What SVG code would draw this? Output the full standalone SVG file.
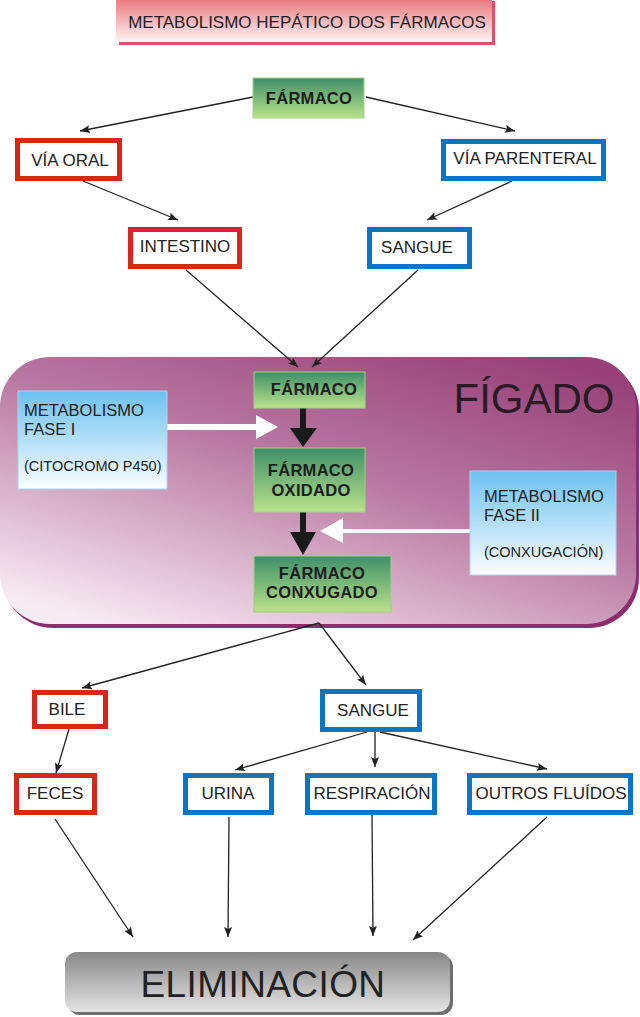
<svg xmlns="http://www.w3.org/2000/svg" width="640" height="1017" viewBox="0 0 640 1017">
<style>
.t{font-family:"Liberation Sans",Arial,sans-serif;font-size:17px;fill:#222;text-anchor:middle}
.b{font-family:"Liberation Sans",Arial,sans-serif;font-size:16.5px;font-weight:bold;fill:#1e1e1e;text-anchor:middle;letter-spacing:0.3px}
.m{font-family:"Liberation Sans",Arial,sans-serif;font-size:16.5px;fill:#222}
.s{font-family:"Liberation Sans",Arial,sans-serif;font-size:14.5px;fill:#222}
.red{fill:#fff;stroke:#d9261c;stroke-width:5}
.blue{fill:#fff;stroke:#0a75c2;stroke-width:5}
.green{fill:url(#gg);stroke:#9fd184;stroke-width:1}
.lb{fill:url(#gb);stroke:#a8d6f2;stroke-width:1}
.c{stroke:#222;stroke-width:1.3;fill:none;marker-end:url(#ah)}
</style>
<defs>
<linearGradient id="gg" x1="0" y1="0" x2="0" y2="1"><stop offset="0" stop-color="#3f8f68"/><stop offset="1" stop-color="#b9e28a"/></linearGradient>
<linearGradient id="gb" x1="0" y1="0" x2="0" y2="1"><stop offset="0" stop-color="#6cc1ef"/><stop offset="1" stop-color="#fbfdff"/></linearGradient>
<linearGradient id="gt" x1="0" y1="0" x2="0" y2="1"><stop offset="0" stop-color="#e8757c"/><stop offset="1" stop-color="#fff4f4"/></linearGradient>
<linearGradient id="gl" x1="0.85" y1="0" x2="0.15" y2="1"><stop offset="0" stop-color="#974178"/><stop offset="0.45" stop-color="#b97aa2"/><stop offset="1" stop-color="#f8ecf3"/></linearGradient>
<linearGradient id="ge" x1="0" y1="0" x2="0" y2="1"><stop offset="0" stop-color="#878787"/><stop offset="1" stop-color="#e4e4e4"/></linearGradient>
<marker id="ah" viewBox="0 0 10 8" refX="10" refY="4" markerWidth="10" markerHeight="8" markerUnits="userSpaceOnUse" orient="auto"><path d="M0,0 L10,4 L0,8 L2,4 Z" fill="#222"/></marker>
</defs>

<g id="title">
<rect x="119" y="1" width="376" height="44" fill="#e0506e"/>
<rect x="116" y="-2" width="376" height="44" fill="url(#gt)"/>
<text x="307" y="28" class="t">METABOLISMO HEPÁTICO DOS FÁRMACOS</text>
</g>

<g id="liver">
<rect x="3" y="361" width="636" height="267" rx="50" fill="#8c2e6e"/>
<rect x="0" y="357" width="636" height="267" rx="50" fill="url(#gl)"/>
<text x="534" y="413" font-family="'Liberation Sans',Arial,sans-serif" font-size="42" fill="#2a1a25" text-anchor="middle">FÍGADO</text>
</g>

<g id="connectors">
<line x1="253" y1="97" x2="80" y2="131" class="c"/>
<line x1="366" y1="97" x2="515" y2="131" class="c"/>
<line x1="83" y1="181" x2="178" y2="220" class="c"/>
<line x1="512" y1="181" x2="427" y2="220" class="c"/>
<line x1="186" y1="270" x2="298" y2="367" class="c"/>
<line x1="418" y1="270" x2="312" y2="367" class="c"/>
<line x1="319" y1="623" x2="82" y2="688" class="c"/>
<line x1="319" y1="623" x2="366" y2="685" class="c"/>
<line x1="69" y1="729" x2="56" y2="773" class="c"/>
<line x1="367" y1="732" x2="235" y2="770" class="c"/>
<line x1="375" y1="732" x2="375" y2="767" class="c"/>
<line x1="380" y1="732" x2="547" y2="769" class="c"/>
<line x1="55" y1="819" x2="133" y2="937" class="c"/>
<line x1="229" y1="817" x2="228" y2="937" class="c"/>
<line x1="372" y1="815" x2="373" y2="936" class="c"/>
<line x1="547" y1="817" x2="413" y2="940" class="c"/>
<path d="M167,424 H256 V415 L278,427 L256,439 V430 H167 Z" fill="#fff"/>
<path d="M470,529 H343 V518 L320,531 L343,543 V533 H470 Z" fill="#fff"/>
<path d="M300,408 H306 V428 H317 L303,447 L290,428 H300 Z" fill="#1a1a1a"/>
<path d="M300,512 H306 V532 H316 L303,555 L290,532 H300 Z" fill="#1a1a1a"/>
</g>

<g id="farmaco-top">
<rect x="253" y="78" width="111" height="40" class="green"/>
<text x="309" y="104" class="b">FÁRMACO</text>
</g>
<g id="via-oral">
<rect x="17.5" y="140.5" width="102" height="38" class="red"/>
<text x="70" y="166" class="t">VÍA ORAL</text>
</g>
<g id="via-parenteral">
<rect x="443.5" y="141.5" width="160" height="37" class="blue"/>
<text x="525" y="164" class="t">VÍA PARENTERAL</text>
</g>
<g id="intestino">
<rect x="130.5" y="229.5" width="109" height="37" class="red"/>
<text x="185" y="252" class="t">INTESTINO</text>
</g>
<g id="sangue-top">
<rect x="369.5" y="229.5" width="100" height="37" class="blue"/>
<text x="417" y="253" class="t">SANGUE</text>
</g>

<g id="farmaco-liver">
<rect x="254" y="372" width="111" height="36" class="green"/>
<text x="314" y="395" class="b">FÁRMACO</text>
</g>
<g id="farmaco-oxidado">
<rect x="254" y="448" width="111" height="64" class="green"/>
<text x="311" y="476" class="b">FÁRMACO</text>
<text x="311" y="496" class="b">OXIDADO</text>
</g>
<g id="farmaco-conxugado">
<rect x="254" y="556" width="137" height="56" class="green"/>
<text x="322" y="579" class="b">FÁRMACO</text>
<text x="322" y="598" class="b">CONXUGADO</text>
</g>
<g id="fase1">
<rect x="18" y="391" width="149" height="98" class="lb"/>
<text x="24" y="416" class="m">METABOLISMO</text>
<text x="24" y="435" class="m">FASE I</text>
<text x="24" y="471" class="s">(CITOCROMO P450)</text>
</g>
<g id="fase2">
<rect x="470" y="471" width="146" height="104" class="lb"/>
<text x="484" y="502" class="m">METABOLISMO</text>
<text x="484" y="521" class="m">FASE II</text>
<text x="484" y="557" class="s">(CONXUGACIÓN)</text>
</g>

<g id="bile">
<rect x="34.5" y="692.5" width="71" height="34" class="red"/>
<text x="67" y="715" class="t">BILE</text>
</g>
<g id="sangue-bottom">
<rect x="322.5" y="691.5" width="97" height="38" class="blue"/>
<text x="373" y="716" class="t">SANGUE</text>
</g>
<g id="feces">
<rect x="16.5" y="775.5" width="78" height="37" class="red"/>
<text x="55" y="799" class="t">FECES</text>
</g>
<g id="urina">
<rect x="185.5" y="775.5" width="86" height="37" class="blue"/>
<text x="228" y="799" class="t">URINA</text>
</g>
<g id="respiracion">
<rect x="307.5" y="775.5" width="127" height="37" class="blue"/>
<text x="372" y="799" class="t">RESPIRACIÓN</text>
</g>
<g id="outros">
<rect x="469.5" y="775.5" width="161" height="37" class="blue"/>
<text x="551" y="799" class="t">OUTROS FLUÍDOS</text>
</g>

<g id="eliminacion">
<rect x="68" y="955" width="385" height="60" rx="12" fill="#6e6e6e"/>
<rect x="65" y="952" width="385" height="60" rx="12" fill="url(#ge)"/>
<text x="263" y="997" font-family="'Liberation Sans',Arial,sans-serif" font-size="37" letter-spacing="0.4" fill="#222" text-anchor="middle">ELIMINACIÓN</text>
</g>
</svg>
